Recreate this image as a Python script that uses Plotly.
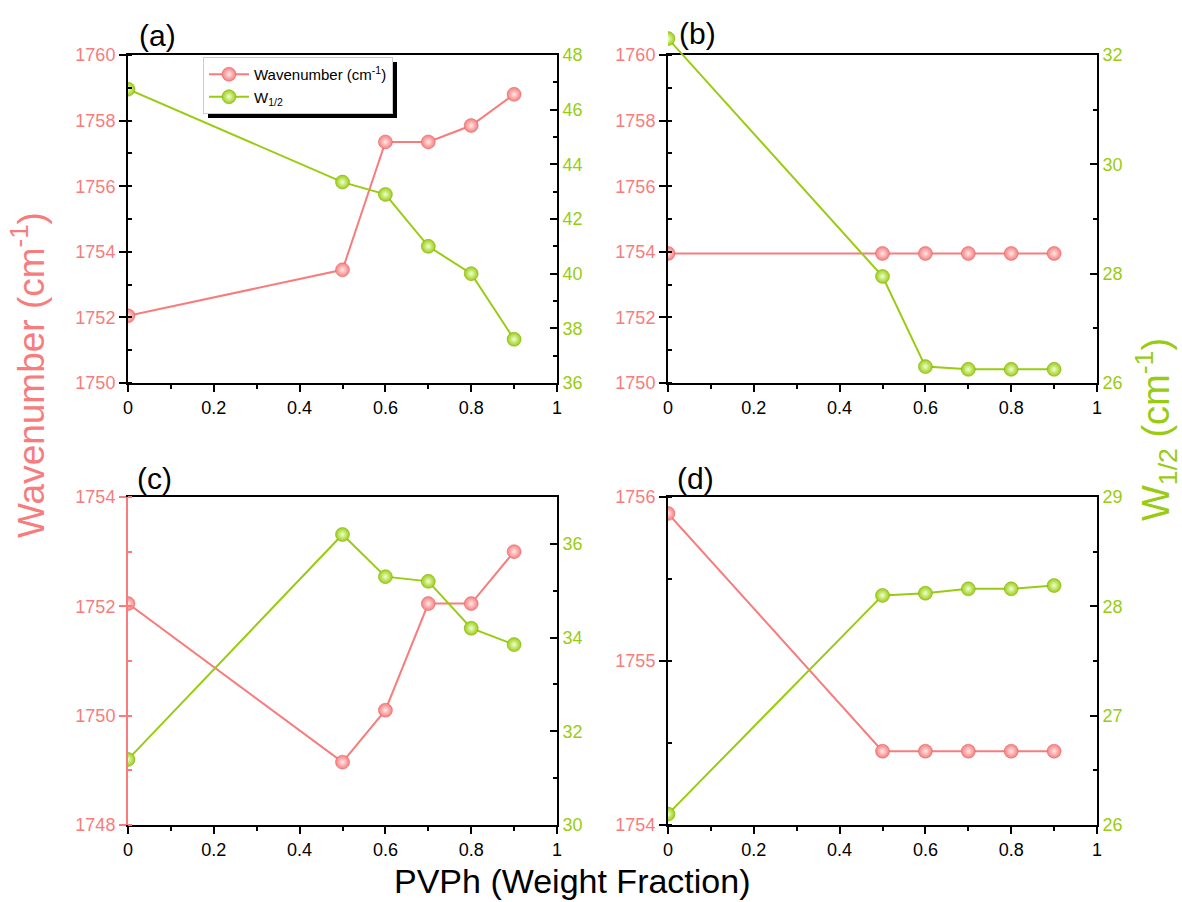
import plotly.graph_objects as go

# ---------------- data ----------------
x_frac = [0, 0.5, 0.6, 0.7, 0.8, 0.9]

wn_a = [1752.05, 1753.45, 1757.35, 1757.35, 1757.85, 1758.8]
w_a = [46.75, 43.35, 42.9, 41.0, 40.0, 37.6]

wn_b = [1753.95, 1753.95, 1753.95, 1753.95, 1753.95, 1753.95]
w_b = [32.3, 27.95, 26.3, 26.25, 26.25, 26.25]

wn_c = [1752.05, 1749.15, 1750.1, 1752.05, 1752.05, 1753.0]
w_c = [31.4, 36.2, 35.3, 35.2, 34.2, 33.85]

wn_d = [1755.9, 1754.45, 1754.45, 1754.45, 1754.45, 1754.45]
w_d = [26.1, 28.1, 28.12, 28.16, 28.16, 28.19]

panel_labels = ["(a)", "(b)", "(c)", "(d)"]
legend_names = ["Wavenumber (cm<sup>-1</sup>)", "W<sub>1/2</sub>"]
x_title = "PVPh (Weight Fraction)"
left_title = "Wavenumber (cm<sup>-1</sup>)"
right_title = "W<sub>1/2</sub> (cm<sup>-1</sup>)"

# axis settings per panel: (range, dtick, minor dtick)
left_axes = [((1750, 1760), 2, 1), ((1750, 1760), 2, 1), ((1748, 1754), 2, 1), ((1754, 1756), 1, 0.5)]
right_axes = [((36, 48), 2, 1), ((26, 32), 2, 1), ((30, 37), 2, 1), ((26, 29), 1, 0.5)]

# ---------------- style ----------------
W, H = 1182, 902
RED = "#F87C7C"
RED_HI = "#FFE8E8"
GREEN = "#99CC11"
GREEN_HI = "#F0FFD0"
FONT = "Liberation Sans, Arial, sans-serif"

def px_x(p):
    return p / W

def px_y(p):
    return 1 - p / H

xdoms = [(128, 557), (668, 1097), (128, 557), (668, 1097)]
ydoms = [(55, 383), (55, 383), (497, 825), (497, 825)]
EXT_TOP = 20  # panel (b): the W1/2 series is drawn in a taller clip area

fig = go.Figure()
series = [(wn_a, w_a), (wn_b, w_b), (wn_c, w_c), (wn_d, w_d)]

def marker(col, hi, edge):
    return dict(size=14, color=col, line=dict(width=0.5, color=edge),
                gradient=dict(type="radial", color=hi))

for i, (wn, ww) in enumerate(series):
    xa = "x" if i == 0 else f"x{i+1}"
    yl = "y" if i == 0 else f"y{2*i+1}"
    yr = f"y{2*i+2}"
    fig.add_trace(go.Scatter(
        x=x_frac, y=wn, xaxis=xa, yaxis=yl, mode="lines+markers",
        name=legend_names[0], showlegend=(i == 0),
        line=dict(color=RED, width=2), marker=marker(RED, RED_HI, "#E06060"),
    ))
    if i == 1:
        # keep panel (b)'s right axis alive (empty placeholder), series drawn on taller twin
        fig.add_trace(go.Scatter(x=[], y=[], xaxis=xa, yaxis=yr, showlegend=False,
                                 hoverinfo="skip"))
        xa_w, ya_w = "x5", "y9"
    else:
        xa_w, ya_w = xa, yr
    fig.add_trace(go.Scatter(
        x=x_frac, y=ww, xaxis=xa_w, yaxis=ya_w, mode="lines+markers",
        name=legend_names[1], showlegend=(i == 0),
        line=dict(color=GREEN, width=2), marker=marker(GREEN, GREEN_HI, "#7FAA00"),
    ))

layout = dict(
    template="none",
    width=W, height=H, autosize=False,
    margin=dict(l=0, r=0, t=0, b=0, pad=0),
    paper_bgcolor="white", plot_bgcolor="rgba(0,0,0,0)",
    font=dict(family=FONT, size=18, color="black"),
    showlegend=True,
    legend=dict(
        x=px_x(203), y=px_y(57), xanchor="left", yanchor="top",
        bgcolor="white", bordercolor="#cccccc", borderwidth=1,
        font=dict(family=FONT, size=15, color="black"),
        tracegroupgap=0, itemwidth=40,
    ),
)

for i in range(4):
    xk = "xaxis" if i == 0 else f"xaxis{i+1}"
    ylk = "yaxis" if i == 0 else f"yaxis{2*i+1}"
    yrk = f"yaxis{2*i+2}"
    yl = "y" if i == 0 else f"y{2*i+1}"
    xa = "x" if i == 0 else f"x{i+1}"
    layout[xk] = dict(
        domain=[px_x(xdoms[i][0]), px_x(xdoms[i][1])], anchor=yl, automargin=False,
        range=[0, 1], dtick=0.2, tick0=0, showgrid=False, zeroline=False,
        showline=True, linecolor="black", linewidth=2, mirror=True,
        ticks="outside", ticklen=7, tickwidth=1.5, tickcolor="black",
        minor=dict(dtick=0.1, ticks="outside", ticklen=4, tickwidth=1.5, tickcolor="black"),
        tickfont=dict(family=FONT, size=18, color="black"), tickformat="~g",
    )
    (r0, r1), dt, mdt = left_axes[i]
    lc = RED if i == 2 else "black"
    layout[ylk] = dict(
        domain=[px_y(ydoms[i][1]), px_y(ydoms[i][0])], anchor=xa, automargin=False,
        range=[r0, r1], dtick=dt, tick0=r0, showgrid=False, zeroline=False,
        showline=True, linecolor=lc, linewidth=2,
        ticks="outside", ticklen=7, tickwidth=1.5, tickcolor=lc,
        minor=dict(dtick=mdt, ticks="inside", ticklen=4, tickwidth=1.5, tickcolor=lc),
        tickfont=dict(family=FONT, size=18, color=RED), side="left",
    )
    (q0, q1), dt2, mdt2 = right_axes[i]
    layout[yrk] = dict(
        domain=[px_y(ydoms[i][1]), px_y(ydoms[i][0])], anchor=xa, automargin=False,
        overlaying=yl, side="right",
        range=[q0, q1], dtick=dt2, tick0=q0, showgrid=False, zeroline=False,
        showline=True, linecolor="black", linewidth=2,
        ticks="inside", ticklen=7, tickwidth=1.5, tickcolor="black",
        minor=dict(dtick=mdt2, ticks="inside", ticklen=4, tickwidth=1.5, tickcolor="black"),
        tickfont=dict(family=FONT, size=18, color=GREEN),
    )

# hidden taller twin of panel (b)'s right axis (same scale, taller clip area)
(q0, q1), _, _ = right_axes[1]
top, bot = ydoms[1]
ext_hi = q0 + (q1 - q0) * (bot - EXT_TOP) / (bot - top)
layout["xaxis5"] = dict(domain=[px_x(xdoms[1][0]), px_x(xdoms[1][1])], anchor="y9",
                        range=[0, 1], visible=False, automargin=False)
layout["yaxis9"] = dict(domain=[px_y(bot), px_y(EXT_TOP)], anchor="x5",
                        range=[q0, ext_hi], visible=False, automargin=False)

fig.update_layout(**layout)

# panel labels
label_pos = [(157, 35), (697, 33), (154, 478), (695, 478)]
for lab, (lx, ly) in zip(panel_labels, label_pos):
    fig.add_annotation(x=px_x(lx), y=px_y(ly), xref="paper", yref="paper",
                       text=lab, showarrow=False, xanchor="center", yanchor="middle",
                       font=dict(family=FONT, size=30, color="black"))

# axis titles
fig.add_annotation(x=px_x(572), y=0, xref="paper", yref="paper", text=x_title,
                   showarrow=False, xanchor="center", yanchor="bottom",
                   font=dict(family=FONT, size=34, color="black"))
fig.add_annotation(x=px_x(28), y=px_y(375), xref="paper", yref="paper", text=left_title,
                   showarrow=False, textangle=-90, xanchor="center", yanchor="middle",
                   font=dict(family=FONT, size=37, color=RED))
fig.add_annotation(x=px_x(1156), y=px_y(430), xref="paper", yref="paper", text=right_title,
                   showarrow=False, textangle=-90, xanchor="center", yanchor="middle",
                   font=dict(family=FONT, size=38, color=GREEN))

# legend drop shadow
fig.add_shape(type="rect", xref="paper", yref="paper",
              x0=px_x(208), x1=px_x(397), y0=px_y(118), y1=px_y(62),
              fillcolor="black", line=dict(width=0), layer="above")

fig.write_html("out.html")
